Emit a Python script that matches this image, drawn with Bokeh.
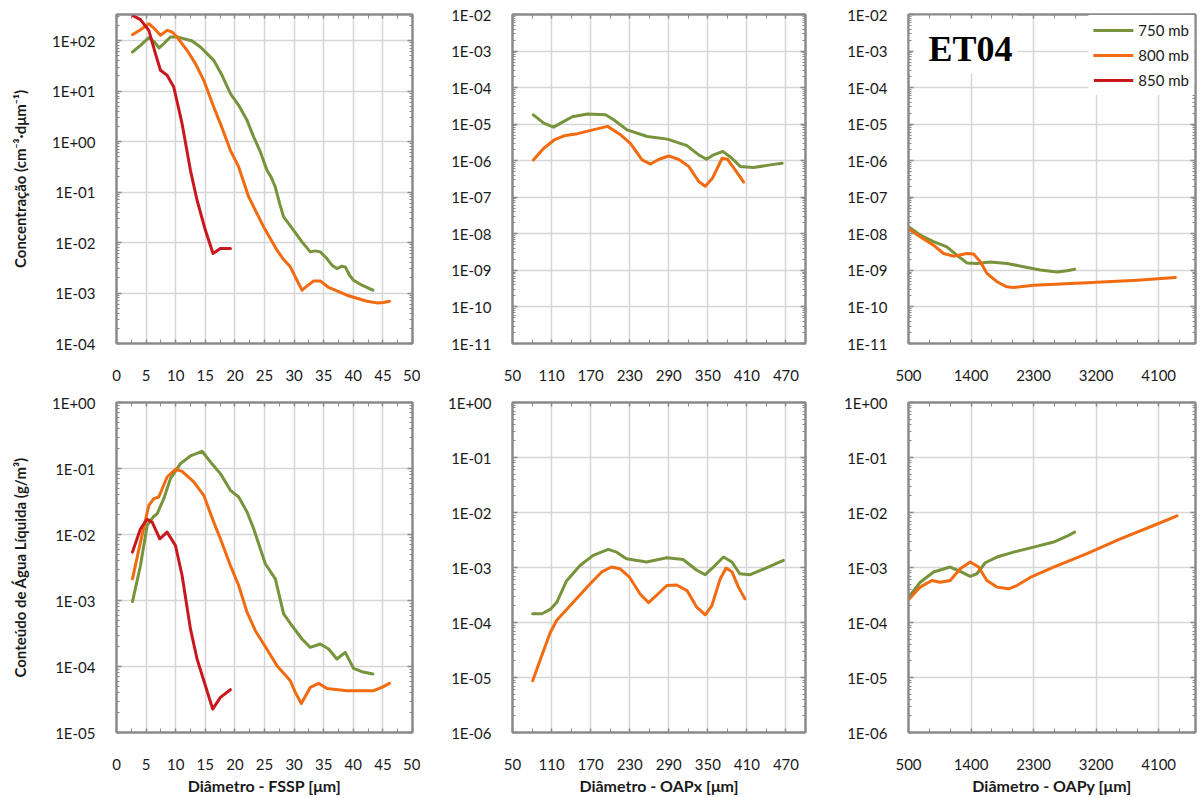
import math
from bokeh.plotting import figure
from bokeh.layouts import column, row
from bokeh.models import (FixedTicker, CustomJSTickFormatter, LogAxis, LinearAxis,
                          Legend, LegendItem, Label, BoxAnnotation)
from bokeh.embed import file_html
from bokeh.resources import INLINE

GREEN = "#77933C"
ORANGE = "#F26B10"
RED = "#C9171E"
FRAME = "#8A8A8A"
GRID = "#D6D6D6"
FONT = "Lato"

series_labels = ["750 mb", "800 mb", "850 mb"]

# ---------------- FSSP : concentration (cm-3 dum-1) ----------------
fssp_d_750 = [2.7, 4.05, 5.46, 6.41, 7.2, 8.1, 9.11, 10.24, 11.36, 12.77, 14.17, 15.3, 16.42,
              17.83, 19.24, 20.64, 22.05, 23.17, 24.3, 25.42, 26.1, 26.83, 27.56, 28.23, 29.08,
              29.92, 31.33, 32.73, 33.58, 34.42, 35.55, 36.39, 37.23, 38.08, 38.64, 39.37,
              40.04, 41.45, 43.31]
fssp_n_750 = [59.7, 80.9, 114.6, 94.1, 71.7, 89.9, 118, 118, 109.6, 98.5, 75, 55.4, 40.8,
              20.6, 8.92, 5.24, 2.64, 1.24, 0.624, 0.27, 0.2, 0.126, 0.0592, 0.0322, 0.0238,
              0.0175, 0.0103, 0.00653, 0.00684, 0.00653, 0.00482, 0.00356, 0.00305, 0.0034,
              0.0033, 0.00225, 0.00179, 0.00143, 0.00114]
fssp_d_800 = [2.7, 4.05, 5.46, 6.41, 7.42, 8.55, 9.39, 10.24, 11.92, 13.33, 14.74, 16.42,
              17.55, 19.24, 20.64, 22.33, 23.73, 24.86, 25.98, 27.11, 28.23, 29.36, 30.2,
              31.33, 32.17, 33.3, 34.42, 35.83, 38.92, 42.3, 43.98, 45.11, 46.12]
fssp_n_800 = [131.5, 165, 217, 173, 127.6, 160, 148.6, 118, 64.4, 35.1, 16.4, 4.85,
              2.27, 0.673, 0.315, 0.0802, 0.0375, 0.0204, 0.012, 0.00705, 0.0046, 0.0033,
              0.00209, 0.00114, 0.00137, 0.00174, 0.00174, 0.00129, 0.000906, 0.000689,
              0.000638, 0.000648, 0.000689]
fssp_d_850 = [2.7, 4.05, 5.46, 6.58, 7.42, 8.55, 9.67, 11.08, 12.49, 13.61, 15.02, 16.31,
              17.55, 19.24]
fssp_n_850 = [318, 261, 160, 55.4, 25.9, 20.6, 12.1, 2.27, 0.27, 0.0689, 0.0175, 0.00605,
              0.0076, 0.0076]

# ---------------- FSSP : liquid water content (g/m3) ----------------
fssp_dl_750 = [2.7, 4.05, 5.17, 6.19, 6.86, 7.99, 9.11, 10.8, 12.49, 14.45, 15.86, 17.55,
               19.24, 20.64, 22.05, 23.17, 25.14, 26.83, 28.23, 29.64, 31.33, 32.73, 34.42,
               35.83, 37.23, 38.64, 40.04, 41.45, 43.31]
fssp_lwc_750 = [0.000964, 0.00339, 0.01373, 0.0184, 0.0206, 0.0349, 0.0702, 0.1186, 0.155,
                0.1824, 0.1257, 0.0836, 0.0467, 0.037, 0.0219, 0.0122, 0.0036, 0.00213,
                0.000626, 0.000416, 0.000261, 0.000195, 0.000219, 0.000184, 0.00013,
                0.000164, 0.0000937, 0.0000834, 0.0000769]
fssp_dl_800 = [2.7, 4.05, 5.46, 6.3, 7.14, 8.55, 9.96, 11.08, 13.05, 14.74, 16.42, 17.55,
               19.24, 20.64, 22.05, 23.45, 24.86, 27.11, 29.36, 30.2, 31.22, 32.73, 34.14,
               35.55, 38.92, 43.42, 44.83, 46.12]
fssp_lwc_800 = [0.00213, 0.00767, 0.0276, 0.0349, 0.037, 0.0743, 0.0973, 0.0906, 0.0625,
                0.0392, 0.0154, 0.00861, 0.00339, 0.00169, 0.000664, 0.000349, 0.000219,
                0.000103, 0.0000608, 0.0000405, 0.0000275, 0.0000482, 0.0000555,
                0.0000465, 0.000043, 0.000043, 0.0000482, 0.0000555]
fssp_dl_850 = [2.7, 4.05, 5.17, 6.02, 7.31, 8.55, 9.96, 11.08, 12.49, 13.61, 15.02, 16.25,
               17.55, 19.24]
fssp_lwc_850 = [0.00541, 0.01222, 0.01694, 0.01543, 0.00861, 0.01087, 0.00682, 0.00239,
                0.000371, 0.00013, 0.0000512, 0.0000226, 0.000034, 0.0000445]

# ---------------- OAPx ----------------
oapx_d_750 = [82, 98, 113, 124, 142, 165, 193, 206, 226, 257, 288, 318, 336, 348, 359, 373,
              387, 400, 420, 446, 464]
oapx_n_750 = [1.8e-5, 1.07e-5, 8.3e-6, 1.07e-5, 1.6e-5, 1.9e-5, 1.8e-5, 1.3e-5, 7e-6, 4.6e-6,
              3.9e-6, 2.6e-6, 1.45e-6, 1.1e-6, 1.45e-6, 1.8e-6, 1.17e-6, 6.9e-7, 6.5e-7,
              7.7e-7, 8.5e-7]
oapx_d_800 = [82, 98, 114, 129, 150, 175, 196, 216, 231, 249, 262, 275, 290, 305, 321, 336,
              346, 357, 372, 380, 392, 405]
oapx_n_800 = [1.05e-6, 2.2e-6, 3.7e-6, 4.8e-6, 5.5e-6, 7.1e-6, 8.7e-6, 5.1e-6, 3.0e-6,
              1.05e-6, 8.1e-7, 1.1e-6, 1.35e-6, 1.1e-6, 6.9e-7, 2.7e-7, 2.0e-7, 3.3e-7,
              1.17e-6, 1.1e-6, 5.6e-7, 2.6e-7]
oapx_dl_750 = [81, 95, 108, 118, 133, 154, 174, 197, 210, 225, 256, 287, 312, 333, 346, 356,
               374, 387, 399, 415, 440, 466]
oapx_lwc_750 = [1.44e-4, 1.44e-4, 1.73e-4, 2.33e-4, 5.7e-4, 1.1e-3, 1.66e-3, 2.13e-3, 1.9e-3,
                1.44e-3, 1.26e-3, 1.5e-3, 1.4e-3, 8.9e-4, 7.4e-4, 9.5e-4, 1.55e-3, 1.26e-3,
                7.7e-4, 7.4e-4, 9.8e-4, 1.35e-3]
oapx_dl_800 = [81, 95, 108, 118, 138, 169, 187, 202, 215, 230, 246, 259, 271, 287, 302, 318,
               333, 346, 356, 369, 378, 387, 397, 407]
oapx_lwc_800 = [8.7e-6, 2.5e-5, 6.6e-5, 1.1e-4, 2.0e-4, 5.0e-4, 8.3e-4, 1.02e-3, 9.5e-4,
                6.6e-4, 3.3e-4, 2.3e-4, 3.1e-4, 4.7e-4, 4.8e-4, 3.8e-4, 1.9e-4, 1.38e-4,
                2.0e-4, 6.2e-4, 9.8e-4, 8.4e-4, 4.4e-4, 2.7e-4]

# ---------------- OAPy ----------------
oapy_d_750 = [514, 668, 860, 1052, 1196, 1340, 1484, 1676, 1916, 2156, 2396, 2636, 2780, 2891]
oapy_n_750 = [1.48e-8, 9.3e-9, 6.1e-9, 4.4e-9, 2.6e-9, 1.6e-9, 1.55e-9, 1.7e-9, 1.55e-9,
              1.26e-9, 1.03e-9, 9.1e-10, 9.8e-10, 1.08e-9]
oapy_d_800 = [514, 668, 860, 1004, 1148, 1340, 1436, 1532, 1628, 1772, 1916, 2012, 2300,
              3068, 3788, 4340]
oapy_n_800 = [1.32e-8, 8.3e-9, 4.9e-9, 2.9e-9, 2.45e-9, 2.9e-9, 2.8e-9, 1.74e-9, 8.3e-10,
              4.9e-10, 3.55e-10, 3.4e-10, 3.95e-10, 4.6e-10, 5.4e-10, 6.4e-10]
oapy_dl_750 = [514, 668, 860, 1100, 1244, 1388, 1484, 1604, 1772, 2012, 2300, 2588, 2780, 2891]
oapy_lwc_750 = [3.0e-4, 5.4e-4, 8.3e-4, 1.02e-3, 8.5e-4, 6.9e-4, 7.7e-4, 1.22e-3, 1.55e-3,
                1.9e-3, 2.35e-3, 2.9e-3, 3.7e-3, 4.4e-3]
oapy_dl_800 = [514, 668, 836, 956, 1100, 1244, 1388, 1508, 1628, 1772, 1940, 2060, 2252,
               2588, 3068, 3548, 4028, 4364]
oapy_lwc_800 = [2.7e-4, 4.4e-4, 5.8e-4, 5.4e-4, 5.8e-4, 9.5e-4, 1.26e-3, 1.02e-3, 5.8e-4,
                4.4e-4, 4.1e-4, 4.7e-4, 6.6e-4, 1.02e-3, 1.78e-3, 3.3e-3, 5.8e-3, 8.7e-3]

# tick definitions
fssp_ticks = [0, 5, 10, 15, 20, 25, 30, 35, 40, 45, 50]
fssp_minor = [2.5, 7.5, 12.5, 17.5, 22.5, 27.5, 32.5, 37.5, 42.5, 47.5]
oapx_ticks = [50, 110, 170, 230, 290, 350, 410, 470]
oapx_minor = [80, 140, 200, 260, 320, 380, 440]
oapy_ticks = [500, 1400, 2300, 3200, 4100]
oapy_minor = [800, 1100, 1700, 2000, 2600, 2900, 3500, 3800, 4400]

conc_title = "Concentração (cm⁻³·dμm⁻¹)"
lwc_title = "Conteúdo de Água Líquida (g/m³)"

EXP_FMT = """
const e = Math.round(Math.log10(tick));
const a = Math.abs(e);
return "1E" + (e < 0 ? "-" : "+") + (a < 10 ? "0" + a : "" + a);
"""


def log_ticks(lo_exp, hi):
    hi_exp = int(math.floor(math.log10(hi) + 1e-9))
    major = [10.0 ** e for e in range(lo_exp, hi_exp + 1)]
    minor = []
    for e in range(lo_exp, hi_exp + 1):
        for k in range(2, 10):
            v = k * 10.0 ** e
            if v < hi:
                minor.append(v)
    return FixedTicker(ticks=major, minor_ticks=minor)


def style_axis(ax, tick_in=5, minor_in=3):
    ax.axis_line_color = FRAME
    ax.axis_line_width = 2
    ax.major_tick_line_color = FRAME
    ax.minor_tick_line_color = FRAME
    ax.major_tick_line_width = 1.5
    ax.minor_tick_line_width = 1
    ax.major_tick_in = tick_in
    ax.major_tick_out = 0
    ax.minor_tick_in = minor_in
    ax.minor_tick_out = 0


def panel(xr, ylo_exp, yhi, xt, xm, w, h, mbl, mbr, mbt, mbb,
          xtitle=None, ytitle=None):
    p = figure(x_range=xr, y_range=(10.0 ** ylo_exp, yhi), y_axis_type="log",
               width=w, height=h,
               min_border_left=mbl, min_border_right=mbr,
               min_border_top=mbt, min_border_bottom=mbb,
               output_backend="svg", toolbar_location=None,
               background_fill_color="white", border_fill_color="white",
               outline_line_color=FRAME, outline_line_width=2)
    yt = log_ticks(ylo_exp, yhi)
    xtk = FixedTicker(ticks=xt, minor_ticks=xm)
    p.xaxis.ticker = xtk
    p.yaxis.ticker = yt
    p.xgrid.ticker = xtk
    p.ygrid.ticker = yt
    p.xgrid.grid_line_color = GRID
    p.ygrid.grid_line_color = GRID
    p.xgrid.grid_line_width = 1.5
    p.ygrid.grid_line_width = 1.5
    p.yaxis.formatter = CustomJSTickFormatter(code=EXP_FMT)

    for ax in p.xaxis:
        style_axis(ax, 4, 4)
        ax.major_label_text_font = FONT
        ax.major_label_text_font_size = "15px"
        ax.major_label_text_color = "#1a1a1a"
        ax.major_label_standoff = 26
        if xtitle:
            ax.axis_label = xtitle
            ax.axis_label_text_font = FONT
            ax.axis_label_text_font_style = "bold"
            ax.axis_label_text_font_size = "16px"
            ax.axis_label_text_color = "#1a1a1a"
            ax.axis_label_standoff = 3
    for ax in p.yaxis:
        style_axis(ax, 5, 3)
        ax.major_label_text_font = FONT
        ax.major_label_text_font_size = "15px"
        ax.major_label_text_color = "#1a1a1a"
        ax.major_label_standoff = 21
        if ytitle:
            ax.axis_label = ytitle
            ax.axis_label_text_font = FONT
            ax.axis_label_text_font_style = "bold"
            ax.axis_label_text_font_size = "15px"
            ax.axis_label_text_color = "#1a1a1a"
            ax.axis_label_standoff = 20

    blank = CustomJSTickFormatter(code="return '';")
    right = LogAxis(ticker=yt, formatter=blank, major_label_text_font_size="0px",
                    major_label_standoff=0)
    style_axis(right, 5, 3)
    p.add_layout(right, "right")
    top = LinearAxis(ticker=xtk, formatter=blank, major_label_text_font_size="0px",
                     major_label_standoff=0)
    style_axis(top, 4, 4)
    p.add_layout(top, "above")
    return p


def draw(p, x, y, color):
    return p.line(x, y, line_color=color, line_width=3, line_join="round", line_cap="round")


TOP_H, BOT_H = 393, 404
W1, W2, W3 = 420, 393, 387

# ---- top row ----
p1 = panel((0, 50), -4, 330, fssp_ticks, fssp_minor, W1, TOP_H, 116, 8, 14, 50, ytitle=conc_title)
draw(p1, fssp_d_750, fssp_n_750, GREEN)
draw(p1, fssp_d_800, fssp_n_800, ORANGE)
draw(p1, fssp_d_850, fssp_n_850, RED)

p2 = panel((50, 500), -11, 1e-2, oapx_ticks, oapx_minor, W2, TOP_H, 92, 8, 14, 50)
draw(p2, oapx_d_750, oapx_n_750, GREEN)
draw(p2, oapx_d_800, oapx_n_800, ORANGE)

p3 = panel((500, 4630), -11, 1e-2, oapy_ticks, oapy_minor, W3, TOP_H, 95, 5, 14, 50)
# white panel behind the campaign tag
p3.add_layout(BoxAnnotation(left=500, right=2068, top=1e-2, bottom=2.45e-4,
                            fill_color="white", fill_alpha=1, line_alpha=0, level="underlay"))
r750 = draw(p3, oapy_d_750, oapy_n_750, GREEN)
r800 = draw(p3, oapy_d_800, oapy_n_800, ORANGE)
r850 = p3.line([math.nan, math.nan], [math.nan, math.nan], line_color=RED, line_width=3)
p3.add_layout(Label(x=1393, y=1.17e-3, text="ET04", text_font="Liberation Serif",
                    text_font_style="bold", text_font_size="36px", text_color="black",
                    text_align="center", text_baseline="middle"))
legend = Legend(items=[LegendItem(label=series_labels[0], renderers=[r750]),
                       LegendItem(label=series_labels[1], renderers=[r800]),
                       LegendItem(label=series_labels[2], renderers=[r850])],
                location="top_right", margin=1, padding=5, spacing=5,
                glyph_width=40, glyph_height=20, label_height=20, label_standoff=5,
                label_text_font=FONT, label_text_font_size="15px", label_text_color="#1a1a1a",
                border_line_alpha=0, background_fill_color="white", background_fill_alpha=1)
p3.add_layout(legend)

# ---- bottom row ----
p4 = panel((0, 50), -5, 1.0, fssp_ticks, fssp_minor, W1, BOT_H, 116, 8, 9, 65,
           xtitle="Diâmetro - FSSP [μm]", ytitle=lwc_title)
draw(p4, fssp_dl_750, fssp_lwc_750, GREEN)
draw(p4, fssp_dl_800, fssp_lwc_800, ORANGE)
draw(p4, fssp_dl_850, fssp_lwc_850, RED)

p5 = panel((50, 500), -6, 1.0, oapx_ticks, oapx_minor, W2, BOT_H, 92, 8, 9, 65,
           xtitle="Diâmetro - OAPx [μm]")
draw(p5, oapx_dl_750, oapx_lwc_750, GREEN)
draw(p5, oapx_dl_800, oapx_lwc_800, ORANGE)

p6 = panel((500, 4630), -6, 1.0, oapy_ticks, oapy_minor, W3, BOT_H, 95, 5, 9, 65,
           xtitle="Diâmetro - OAPy [μm]")
draw(p6, oapy_dl_750, oapy_lwc_750, GREEN)
draw(p6, oapy_dl_800, oapy_lwc_800, ORANGE)

layout = column(row(p1, p2, p3), row(p4, p5, p6))
open("out.html", "w").write(file_html(layout, INLINE))
